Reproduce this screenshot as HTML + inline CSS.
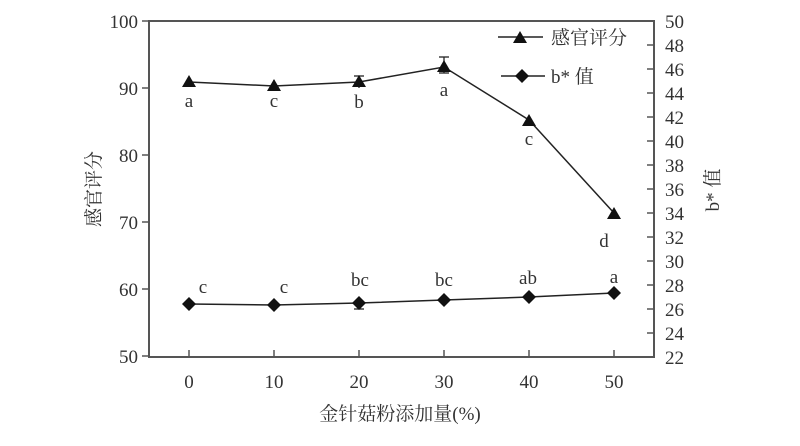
<!DOCTYPE html>
<html><head><meta charset="utf-8"><style>body{margin:0;background:#fff}svg{display:block}</style></head><body>
<svg width="800" height="446" viewBox="0 0 800 446" xmlns="http://www.w3.org/2000/svg" font-family="Liberation Serif, Noto Serif CJK SC, serif" fill="#333">
<rect x="149" y="21" width="505" height="336" fill="none" stroke="#555" stroke-width="2"/>
<g stroke="#555" stroke-width="1.5">
<line x1="142" y1="21" x2="149" y2="21"/><line x1="142" y1="88" x2="149" y2="88"/><line x1="142" y1="155" x2="149" y2="155"/><line x1="142" y1="222" x2="149" y2="222"/><line x1="142" y1="289" x2="149" y2="289"/><line x1="142" y1="356" x2="149" y2="356"/>
<line x1="189" y1="357" x2="189" y2="350"/><line x1="274" y1="357" x2="274" y2="350"/><line x1="359" y1="357" x2="359" y2="350"/><line x1="444" y1="357" x2="444" y2="350"/><line x1="529" y1="357" x2="529" y2="350"/><line x1="614" y1="357" x2="614" y2="350"/>
</g>
<g stroke="#555" stroke-width="1.5">
<line x1="647" y1="45" x2="654" y2="45"/><line x1="647" y1="69" x2="654" y2="69"/><line x1="647" y1="93" x2="654" y2="93"/><line x1="647" y1="117" x2="654" y2="117"/><line x1="647" y1="141" x2="654" y2="141"/><line x1="647" y1="165" x2="654" y2="165"/><line x1="647" y1="189" x2="654" y2="189"/><line x1="647" y1="213" x2="654" y2="213"/><line x1="647" y1="237" x2="654" y2="237"/><line x1="647" y1="261" x2="654" y2="261"/><line x1="647" y1="285" x2="654" y2="285"/><line x1="647" y1="309" x2="654" y2="309"/><line x1="647" y1="333" x2="654" y2="333"/>
</g>
<g font-size="19" text-anchor="end">
<text x="138" y="28">100</text><text x="138" y="95">90</text><text x="138" y="162">80</text><text x="138" y="229">70</text><text x="138" y="296">60</text><text x="138" y="363">50</text>
</g>
<g font-size="19" text-anchor="start">
<text x="665" y="28">50</text><text x="665" y="52">48</text><text x="665" y="76">46</text><text x="665" y="100">44</text><text x="665" y="124">42</text><text x="665" y="148">40</text><text x="665" y="172">38</text><text x="665" y="196">36</text><text x="665" y="220">34</text><text x="665" y="244">32</text><text x="665" y="268">30</text><text x="665" y="292">28</text><text x="665" y="316">26</text><text x="665" y="340">24</text><text x="665" y="364">22</text>
</g>
<g font-size="19" text-anchor="middle">
<text x="189" y="388">0</text><text x="274" y="388">10</text><text x="359" y="388">20</text><text x="444" y="388">30</text><text x="529" y="388">40</text><text x="614" y="388">50</text>
</g>
<text x="400" y="420" font-size="19" text-anchor="middle">金针菇粉添加量(%)</text>
<text transform="translate(100,189) rotate(-90)" font-size="19" text-anchor="middle">感官评分</text>
<text transform="translate(719,190) rotate(-90)" font-size="19" text-anchor="middle">b* 值</text>
<polyline points="189,82 274,86 359,82 444,67 529,120 614,213" fill="none" stroke="#222" stroke-width="1.5"/>
<polyline points="189,304 274,305 359,303 444,300 529,297 614,293" fill="none" stroke="#222" stroke-width="1.5"/>
<g stroke="#222" stroke-width="1.3">
<line x1="444" y1="57" x2="444" y2="73"/><line x1="439" y1="57" x2="449" y2="57"/><line x1="439" y1="73" x2="449" y2="73"/>
<line x1="359" y1="76" x2="359" y2="88"/><line x1="354" y1="76" x2="364" y2="76"/>
<line x1="189" y1="77" x2="189" y2="87"/><line x1="274" y1="80" x2="274" y2="91"/>
<line x1="359" y1="298" x2="359" y2="309"/><line x1="354" y1="309" x2="364" y2="309"/>
</g>
<g fill="#111">
<polygon points="189,75 182,87 196,87"/><polygon points="274,79 267,91 281,91"/><polygon points="359,75 352,87 366,87"/><polygon points="444,60 437,72 451,72"/><polygon points="529,114 522,126 536,126"/><polygon points="614,207 607,219 621,219"/>
<polygon points="189,297 196,304 189,311 182,304"/><polygon points="274,298 281,305 274,312 267,305"/><polygon points="359,296 366,303 359,310 352,303"/><polygon points="444,293 451,300 444,307 437,300"/><polygon points="529,290 536,297 529,304 522,297"/><polygon points="614,286 621,293 614,300 607,293"/>
</g>
<g font-size="19" text-anchor="middle">
<text x="189" y="107">a</text><text x="274" y="107">c</text><text x="359" y="108">b</text><text x="444" y="96">a</text><text x="529" y="145">c</text><text x="604" y="247">d</text>
<text x="203" y="293">c</text><text x="284" y="293">c</text><text x="360" y="286">bc</text><text x="444" y="286">bc</text><text x="528" y="284">ab</text><text x="614" y="283">a</text>
</g>
<line x1="498" y1="37" x2="543" y2="37" stroke="#222" stroke-width="1.5"/>
<polygon points="520,31 513,43 527,43" fill="#111"/>
<text x="551" y="44" font-size="19">感官评分</text>
<line x1="501" y1="76" x2="545" y2="76" stroke="#222" stroke-width="1.5"/>
<polygon points="522,69 529,76 522,83 515,76" fill="#111"/>
<text x="551" y="83" font-size="19">b* 值</text>
</svg>
</body></html>
